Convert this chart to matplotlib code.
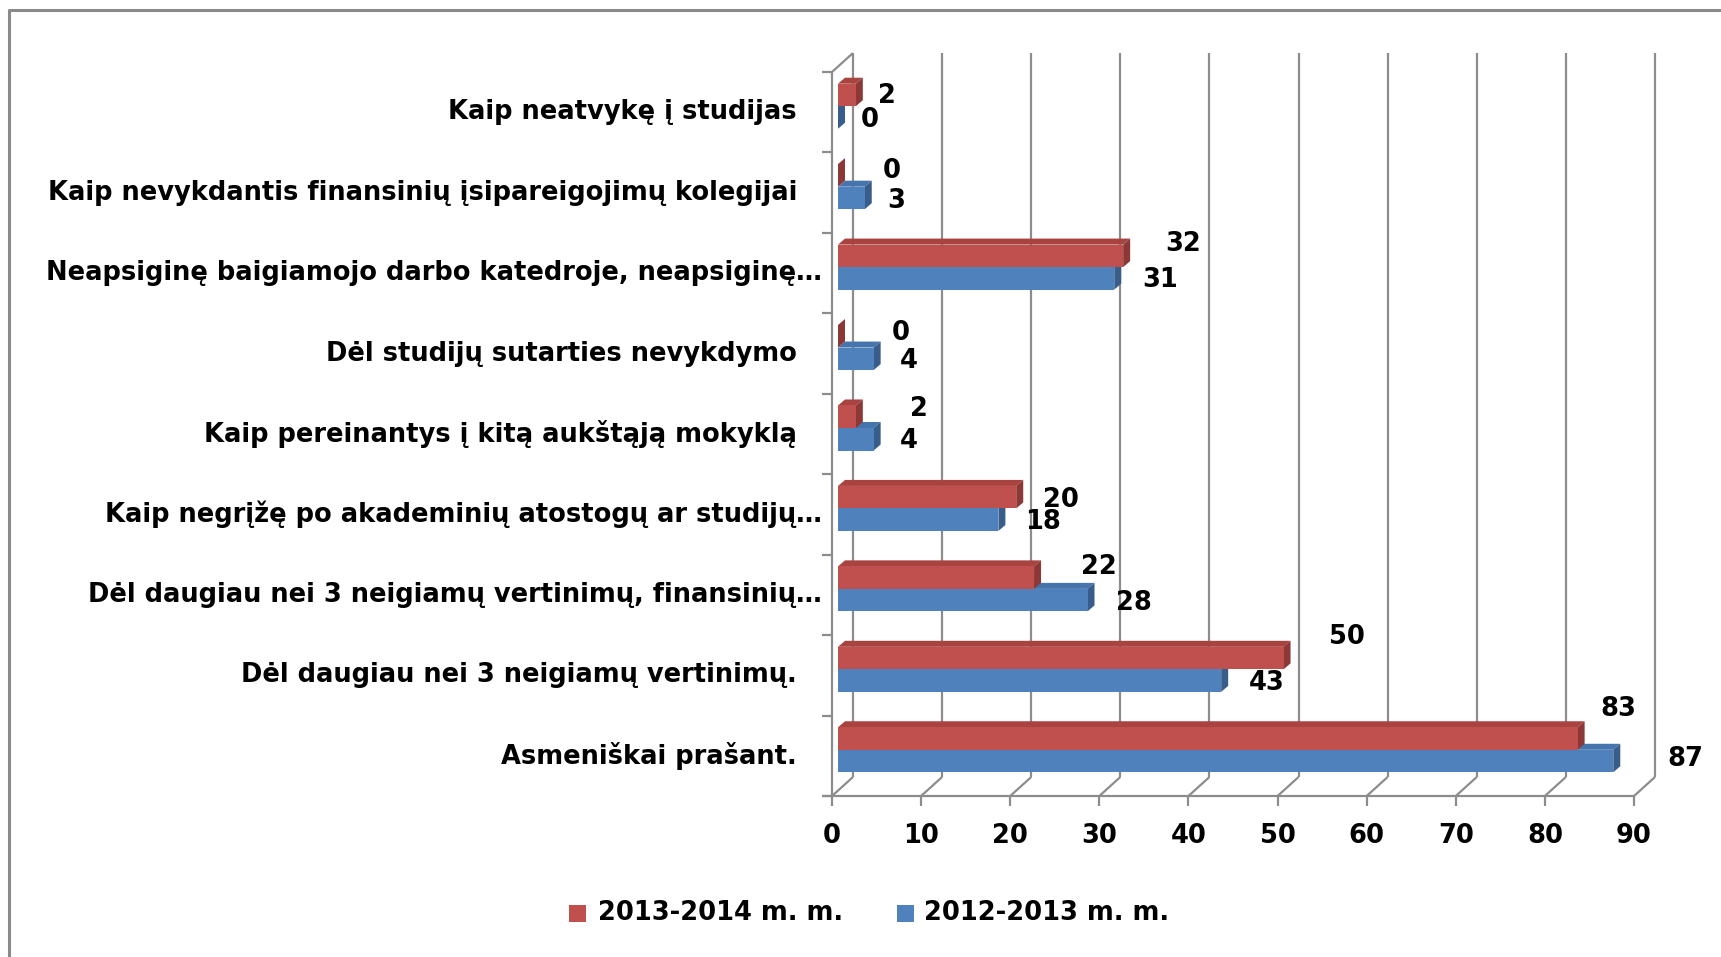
import matplotlib
matplotlib.use("Agg")
import matplotlib.pyplot as plt
from matplotlib.patches import Polygon, Rectangle
from matplotlib.lines import Line2D
from matplotlib.transforms import IdentityTransform
import numpy as np

# data, top -> bottom as in the chart
categories = [
    "Kaip neatvykę į studijas",
    "Kaip nevykdantis finansinių įsipareigojimų kolegijai",
    "Neapsiginę baigiamojo darbo katedroje, neapsiginę…",
    "Dėl studijų sutarties nevykdymo",
    "Kaip pereinantys į kitą aukštąją mokyklą",
    "Kaip negrįžę po akademinių atostogų ar studijų…",
    "Dėl daugiau nei 3 neigiamų vertinimų, finansinių…",
    "Dėl daugiau nei 3 neigiamų vertinimų.",
    "Asmeniškai prašant.",
]
red_values = [2, 0, 32, 0, 2, 20, 22, 50, 83]
blue_values = [0, 3, 31, 4, 4, 18, 28, 43, 87]
series_names = ["2013-2014 m. m.", "2012-2013 m. m."]
xticks = np.arange(0, 100, 10)

# label nudges in pixels (excel puts 3d labels a bit everywhere)
red_dx = [15, 38, 35, 47, 47, 20, 40, 38, 16]
red_dy = [1, -4, -12, -3, -8, 3, -11, -21, -30]
blue_dx = [16, 16, 21, 19, 19, 20, 21, 21, 47]
blue_dy = [3, 3, 2, 2, 2, 2, 3, 2, -2]

RED, RED_TOP, RED_SIDE = "#C0504D", "#A8433F", "#8C3836"
BLUE, BLUE_TOP, BLUE_SIDE = "#4F81BD", "#4675AE", "#385D8A"
GRID = "#8c8c8c"
FONT = ["DejaVu Sans"]
FS = 18.5

W, H = 1721, 957
fig = plt.figure(figsize=(W / 100, H / 100), dpi=100)
ax = fig.add_axes([832 / W, 1 - 796 / H, (1634 - 832) / W, (796 - 72) / H])
n = len(categories)
ax.set_xlim(0, 90)
ax.set_ylim(-0.5, n - 0.5)
ax.axis("off")

ident = IdentityTransform()
wall = np.array([21, 19])   # depth of the back wall
boff = np.array([6, 6])     # bar front face offset
bdep = np.array([7, 6])     # bar depth
h = 0.28


def px(x, y):
    return ax.transData.transform((x, y))


def line(p, q, lw=2.2, z=1):
    fig.add_artist(Line2D([p[0], q[0]], [p[1], q[1]], color=GRID, lw=lw * 0.72,
                          transform=ident, zorder=z, solid_capstyle="butt"))


def poly(pts, color, z):
    fig.add_artist(Polygon(pts, closed=True, facecolor=color, edgecolor="none",
                           transform=ident, zorder=z))


# back wall gridlines
for t in xticks:
    line(px(t, -0.5) + wall, px(t, n - 0.5) + wall)

# floor and left axis
line(px(0, -0.5) - [10, 0], px(90, -0.5))
for t in xticks:
    line(px(t, -0.5), px(t, -0.5) + wall)
    line(px(t, -0.5), px(t, -0.5) - [0, 10])
line(px(0, -0.5), px(0, n - 0.5))
line(px(0, n - 0.5), px(0, n - 0.5) + wall)
for k in range(n + 1):
    line(px(0, k - 0.5) - [10, 0], px(0, k - 0.5))

# bars
for i in range(n):
    c = n - 1 - i
    for v, y0, y1, cols, z in [(blue_values[i], c - h, c, (BLUE, BLUE_TOP, BLUE_SIDE), 3),
                               (red_values[i], c, c + h, (RED, RED_TOP, RED_SIDE), 4)]:
        A = px(0, y0) + boff
        B = px(v, y0) + boff
        C = px(v, y1) + boff
        D = px(0, y1) + boff
        poly([D, C, C + bdep, D + bdep], cols[1], z)
        poly([B, C, C + bdep, B + bdep], cols[2], z)
        poly([A, B, C, D], cols[0], z)

    # value labels
    rx, ry = px(red_values[i], c + h / 2) + boff + [bdep[0], 0]
    fig.text(rx + red_dx[i], ry - red_dy[i], str(red_values[i]), transform=ident,
             ha="left", va="center", fontsize=FS, fontweight="bold", family=FONT)
    bx, by = px(blue_values[i], c - h / 2) + boff + [bdep[0], 0]
    fig.text(bx + blue_dx[i], by - blue_dy[i], str(blue_values[i]), transform=ident,
             ha="left", va="center", fontsize=FS, fontweight="bold", family=FONT)

    # category labels
    cx = 822 if categories[i].endswith("…") else 797
    fig.text(cx, px(0, c)[1], categories[i], transform=ident, ha="right", va="center",
             fontsize=FS, fontweight="bold", family=FONT)

# x tick labels
for t in xticks:
    x, y = px(t, -0.5)
    fig.text(x, y - 40, str(t), transform=ident, ha="center", va="center",
             fontsize=FS, fontweight="bold", family=FONT)

# legend
ly = H - 913
for sx, tx, col, name in [(569, 598, RED, series_names[0]), (897, 924, BLUE, series_names[1])]:
    fig.add_artist(Rectangle((sx, ly - 8.5), 17, 17, facecolor=col, edgecolor="none",
                             transform=ident))
    fig.text(tx, ly, name, transform=ident, ha="left", va="center",
             fontsize=FS, fontweight="bold", family=FONT)

# outer frame (only top and left visible)
fig.add_artist(Line2D([9, 9, W], [0, H - 10, H - 10], color="#8a8a8a", lw=2.2,
                      transform=ident))

fig.savefig("out.png", dpi=100)
